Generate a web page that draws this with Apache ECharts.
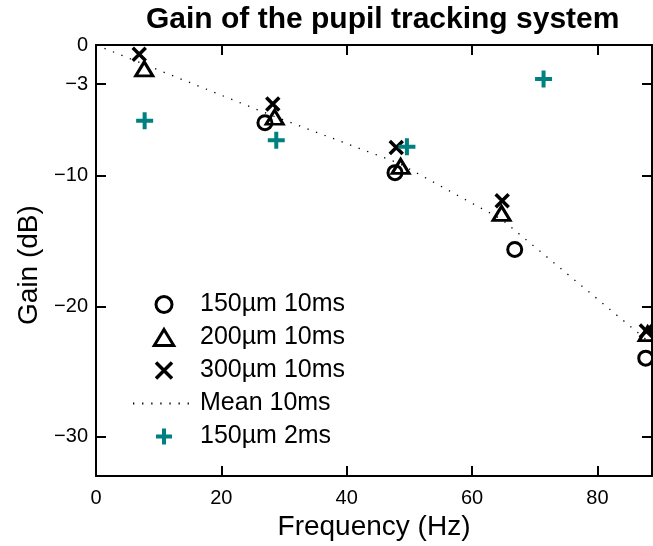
<!DOCTYPE html>
<html>
<head>
<meta charset="utf-8">
<script src="https://cdn.jsdelivr.net/npm/echarts@6/dist/echarts.min.js"></script>
<style>
  html, body { margin: 0; padding: 0; background: #fff; }
  #chart { width: 653px; height: 546px; }
</style>
</head>
<body>
<div id="chart"></div>
<script>
// Measured gain vs. stimulus frequency, [Hz, dB]
const gain150_10ms = [[26.95, -5.95], [47.7, -9.77], [66.8, -15.65], [87.7, -23.97]];
const gain200_10ms = [[7.7, -1.83], [28.5, -5.53], [48.6, -9.29], [64.7, -12.89], [88.0, -22.1]];
const gain300_10ms = [[6.9, -0.70], [28.2, -4.52], [47.9, -7.85], [64.8, -11.92], [87.8, -21.9]];
const mean10ms = [[0, 0], [28.2, -5.42], [48.3, -9.05], [64.75, -13.36], [87.9, -22.6]];
const gain150_2ms = [[7.76, -5.79], [28.76, -7.29], [49.6, -7.79], [71.4, -2.61]];

const xTicks = [0, 20, 40, 60, 80];
const yTicks = [0, -3, -10, -20, -30];

const FONT = 'Liberation Sans, Arial, Helvetica, sans-serif';
const TEAL = '#008080';
const minus = v => String(v).replace('-', '\u2212');

const CROSS = 'path://M0,0L10,10M10,0L0,10';
const PLUS = 'path://M5,0L5,10M0,5L10,5';
const TRIANGLE = 'path://M8.5,0L17,14L0,14Z';

// Box frame: every axis line drawn, ticks pointing into the plot (negative length)
const boxAxisLine = () => ({ show: true, onZero: false, lineStyle: { color: '#000', width: 2 } });
const inwardTick = values => ({ show: true, inside: false, length: -10, customValues: values, lineStyle: { color: '#000', width: 2 } });

const chart = echarts.init(document.getElementById('chart'), null, { renderer: 'canvas' });
chart.setOption({
  backgroundColor: '#fff',
  animation: false,
  title: {
    text: 'Gain of the pupil tracking system',
    left: 141, top: 0,
    textStyle: { fontFamily: FONT, fontWeight: 'bold', fontSize: 30, color: '#000' }
  },
  grid: { left: 96, right: 1, top: 45, bottom: 69 },
  legend: {
    orient: 'vertical', left: 132, top: 292, padding: 0,
    itemWidth: 62, itemHeight: 16, itemGap: 8,
    textStyle: { fontFamily: FONT, fontSize: 25, color: '#000' },
    data: [
      { name: '150\u00b5m 10ms', icon: 'circle', itemStyle: { color: 'none', borderColor: '#000', borderWidth: 3 } },
      { name: '200\u00b5m 10ms', icon: TRIANGLE, itemStyle: { color: 'none', borderColor: '#000', borderWidth: 3 } },
      { name: '300\u00b5m 10ms', icon: CROSS, itemStyle: { color: 'none', borderColor: '#000', borderWidth: 3.5 } },
      { name: 'Mean 10ms', itemStyle: { color: 'none', borderColor: 'none', borderWidth: 0, opacity: 0 } },
      { name: '150\u00b5m 2ms', icon: PLUS, itemStyle: { color: 'none', borderColor: TEAL, borderWidth: 4 } }
    ]
  },
  xAxis: [{
    type: 'value', min: 0, max: 88.7, position: 'bottom',
    name: 'Frequency (Hz)', nameLocation: 'middle', nameGap: 33,
    nameTextStyle: { fontFamily: FONT, fontSize: 28, color: '#000' },
    axisLine: boxAxisLine(), axisTick: inwardTick(xTicks), splitLine: { show: false },
    axisLabel: { customValues: xTicks, margin: 12, fontFamily: FONT, fontSize: 20, color: '#000', formatter: minus }
  }, {
    type: 'value', min: 0, max: 88.7, position: 'top',
    axisLine: boxAxisLine(), axisTick: inwardTick(xTicks), splitLine: { show: false },
    axisLabel: { show: false }
  }],
  yAxis: [{
    type: 'value', min: -33, max: 0, position: 'left',
    name: 'Gain (dB)', nameLocation: 'middle', nameGap: 53, nameRotate: 90,
    nameTextStyle: { fontFamily: FONT, fontSize: 28, color: '#000', padding: [0, 9, 0, 0] },
    axisLine: boxAxisLine(), axisTick: inwardTick(yTicks), splitLine: { show: false },
    axisLabel: { customValues: yTicks, margin: 8, fontFamily: FONT, fontSize: 20, color: '#000', formatter: minus }
  }, {
    type: 'value', min: -33, max: 0, position: 'right',
    axisLine: boxAxisLine(), axisTick: inwardTick(yTicks), splitLine: { show: false },
    axisLabel: { show: false }
  }],
  series: [{
    name: '150\u00b5m 10ms', type: 'scatter', data: gain150_10ms,
    symbol: 'circle', symbolSize: 14,
    itemStyle: { color: 'none', borderColor: '#000', borderWidth: 3, opacity: 1 }
  }, {
    name: '200\u00b5m 10ms', type: 'scatter', data: gain200_10ms,
    symbol: 'triangle', symbolSize: [17, 14],
    itemStyle: { color: 'none', borderColor: '#000', borderWidth: 3, opacity: 1 }
  }, {
    name: '300\u00b5m 10ms', type: 'scatter', data: gain300_10ms,
    symbol: CROSS, symbolSize: 13,
    itemStyle: { color: 'none', borderColor: '#000', borderWidth: 3.5, opacity: 1 }
  }, {
    name: 'Mean 10ms', type: 'line', data: mean10ms,
    symbol: 'none', itemStyle: { color: '#000' },
    lineStyle: { color: '#000', width: 1.3, type: [1.3, 7.8] }
  }, {
    name: '150\u00b5m 2ms', type: 'scatter', data: gain150_2ms,
    symbol: PLUS, symbolSize: 17,
    itemStyle: { color: 'none', borderColor: TEAL, borderWidth: 4, opacity: 1 }
  }]
});
</script>
</body>
</html>
